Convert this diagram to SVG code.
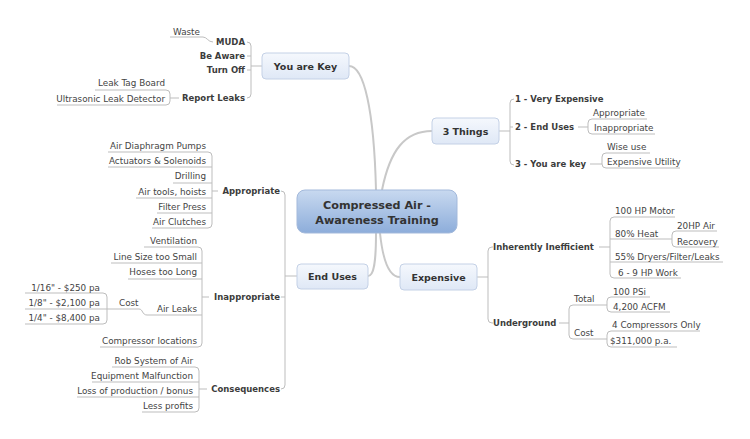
<svg xmlns="http://www.w3.org/2000/svg" width="750" height="439" viewBox="0 0 750 439">
<defs>
<linearGradient id="gMain" x1="0" y1="0" x2="0" y2="1"><stop offset="0" stop-color="#c8d9f0"/><stop offset="1" stop-color="#8dadda"/></linearGradient>
<linearGradient id="gBox" x1="0" y1="0" x2="0" y2="1"><stop offset="0" stop-color="#f5f8fd"/><stop offset="1" stop-color="#dfe8f6"/></linearGradient>
</defs>
<style>
text{font-family:"DejaVu Sans",Verdana,sans-serif}
.c{font-size:11.2px;font-weight:bold;fill:#333;text-anchor:middle}
.bt{font-size:9.5px;font-weight:bold;fill:#333;text-anchor:middle}
.s{font-size:8.5px;font-weight:bold;fill:#3c3c3c}
.l{font-size:8.8px;fill:#444}
.e{text-anchor:end}
.box{fill:url(#gBox);stroke:#c4d1e6;stroke-width:1}
.main{fill:url(#gMain);stroke:#a3b9db;stroke-width:1}
.ln{fill:none;stroke:#bdbdbd;stroke-width:1}
.mc{fill:none;stroke:#c8c8c8;stroke-width:2}
</style>
<rect width="750" height="439" fill="#fff"/>
<g id="connectors">
<path class="mc" d="M349,66 C364,66 374,110 376,190"/>
<path class="mc" d="M382,190 C390,150 405,131 432,131"/>
<path class="mc" d="M376,233 C376,262 374,276 368,276"/>
<path class="mc" d="M380,233 C383,262 390,277 400,277"/>
<path class="ln" d="M247,42 Q251,42 251,46 V94 Q251,98 247,98 M247,56 H251 M247,70 H251 M251,66 H262"/>
<path class="ln" d="M170,37 H203 C207,37 208,42 213,42"/>
<path class="ln" d="M95,90 H166 Q170,90 170,94 V101 Q170,105 166,105 H57 M170,98 H179"/>
<path class="ln" d="M281,191 Q285,191 285,195 V385 Q285,389 281,389 M281,297 H285 M285,276 H297"/>
<path class="ln" d="M108,152 H208 Q212,152 212,156 V224 Q212,228 208,228 H152 M108,167 H212 M173,183 H212 M136,198 H212 M157,213 H212 M212,191 H218"/>
<path class="ln" d="M144,247 H198 Q202,247 202,251 V343 Q202,347 198,347 H100 M111,263 H202 M128,279 H202 M147,315 H202 M202,297 H209"/>
<path class="ln" d="M25,293 H103 Q107,293 107,297 V320 Q107,324 103,324 H25 M25,309 H139 C143,309 142,315 147,315"/>
<path class="ln" d="M112,367 H195 Q199,367 199,371 V408 Q199,412 195,412 H142 M92,382 H199 M77,397 H199 M199,389 H207"/>
<path class="ln" d="M499,131 H510 M514,99 Q510,99 510,103 V161 Q510,165 514,165 M510,127 H513"/>
<path class="ln" d="M647,119 H592 Q588,119 588,123 V130 Q588,134 592,134 H655 M578,127 H588"/>
<path class="ln" d="M650,153 H606 Q602,153 602,157 V164 Q602,168 606,168 H680 M590,164 H602"/>
<path class="ln" d="M477,277 H488 M493,247 H492 Q488,247 488,251 V319 Q488,323 492,323 H493"/>
<path class="ln" d="M675,217 H614 Q610,217 610,221 V274 Q610,278 614,278 H681 M610,239 H672 M610,262 H723 M599,247 H610"/>
<path class="ln" d="M717,231 H676 Q672,231 672,235 V243 Q672,247 676,247 H719"/>
<path class="ln" d="M607,305 H573 Q569,305 569,309 V335 Q569,339 573,339 H607 M559,323 H569"/>
<path class="ln" d="M650,297 H611 Q607,297 607,301 V308 Q607,312 611,312 H670"/>
<path class="ln" d="M700,331 H611 Q607,331 607,335 V343 Q607,347 611,347 H677"/>
</g>
<g id="central"><rect class="main" x="297" y="190" width="160" height="43" rx="8"/><text class="c" x="377" y="209">Compressed Air -</text><text class="c" x="377" y="223.5">Awareness Training</text></g>
<g id="you-are-key"><rect class="box" x="262" y="53" width="87" height="26" rx="4"/><text class="bt" x="305.5" y="69.5">You are Key</text></g>
<g id="muda"><text class="s e" x="245" y="45">MUDA</text></g>
<g id="waste"><text class="l" x="173" y="35">Waste</text></g>
<g id="be-aware"><text class="s e" x="245" y="59">Be Aware</text></g>
<g id="turn-off"><text class="s e" x="245" y="73">Turn Off</text></g>
<g id="report-leaks"><text class="s e" x="245" y="101">Report Leaks</text></g>
<g id="leak-tag"><text class="l e" x="165" y="86">Leak Tag Board</text></g>
<g id="ultrasonic"><text class="l e" x="165" y="101.5">Ultrasonic Leak Detector</text></g>
<g id="three-things"><rect class="box" x="432" y="118" width="67" height="26" rx="4"/><text class="bt" x="465.5" y="134.5">3 Things</text></g>
<g id="t1"><text class="s" x="515" y="102">1 - Very Expensive</text></g>
<g id="t2"><text class="s" x="515" y="130">2 - End Uses</text></g>
<g id="t2a"><text class="l" x="593" y="116">Appropriate</text></g>
<g id="t2b"><text class="l" x="594" y="131">Inappropriate</text></g>
<g id="t3"><text class="s" x="515" y="167">3 - You are key</text></g>
<g id="t3a"><text class="l" x="607" y="150">Wise use</text></g>
<g id="t3b"><text class="l" x="607" y="165">Expensive Utility</text></g>
<g id="end-uses"><rect class="box" x="297" y="264" width="71" height="25" rx="4"/><text class="bt" x="332.5" y="280">End Uses</text></g>
<g id="appropriate"><text class="s e" x="280" y="194">Appropriate</text></g>
<g id="a1"><text class="l e" x="206" y="149">Air Diaphragm Pumps</text></g>
<g id="a2"><text class="l e" x="206" y="164">Actuators &amp; Solenoids</text></g>
<g id="a3"><text class="l e" x="206" y="179">Drilling</text></g>
<g id="a4"><text class="l e" x="206" y="195">Air tools, hoists</text></g>
<g id="a5"><text class="l e" x="206" y="210">Filter Press</text></g>
<g id="a6"><text class="l e" x="206" y="225">Air Clutches</text></g>
<g id="inappropriate"><text class="s e" x="280" y="300">Inappropriate</text></g>
<g id="i1"><text class="l e" x="197" y="244">Ventilation</text></g>
<g id="i2"><text class="l e" x="197" y="260">Line Size too Small</text></g>
<g id="i3"><text class="l e" x="197" y="275">Hoses too Long</text></g>
<g id="i4"><text class="l e" x="197" y="312">Air Leaks</text></g>
<g id="cost-l"><text class="l" x="119" y="306">Cost</text></g>
<g id="c1"><text class="l e" x="100" y="291">1/16" - $250 pa</text></g>
<g id="c2"><text class="l e" x="100" y="306">1/8" - $2,100 pa</text></g>
<g id="c3"><text class="l e" x="100" y="321">1/4" - $8,400 pa</text></g>
<g id="i5"><text class="l e" x="197" y="344">Compressor locations</text></g>
<g id="consequences"><text class="s e" x="280" y="392">Consequences</text></g>
<g id="q1"><text class="l e" x="193" y="364">Rob System of Air</text></g>
<g id="q2"><text class="l e" x="193" y="379">Equipment Malfunction</text></g>
<g id="q3"><text class="l e" x="193" y="394">Loss of production / bonus</text></g>
<g id="q4"><text class="l e" x="193" y="409">Less profits</text></g>
<g id="expensive"><rect class="box" x="400" y="264" width="77" height="26" rx="4"/><text class="bt" x="438.5" y="280.5">Expensive</text></g>
<g id="inefficient"><text class="s" x="493" y="250">Inherently Inefficient</text></g>
<g id="e1"><text class="l" x="615" y="214">100 HP Motor</text></g>
<g id="e2"><text class="l" x="615" y="237">80% Heat</text></g>
<g id="e2a"><text class="l" x="677" y="229">20HP Air</text></g>
<g id="e2b"><text class="l" x="677" y="245">Recovery</text></g>
<g id="e3"><text class="l" x="615" y="260">55% Dryers/Filter/Leaks</text></g>
<g id="e4"><text class="l" x="618" y="276">6 - 9 HP Work</text></g>
<g id="underground"><text class="s" x="493" y="326">Underground</text></g>
<g id="total"><text class="l" x="574" y="302">Total</text></g>
<g id="u1"><text class="l" x="613" y="295">100 PSi</text></g>
<g id="u2"><text class="l" x="613" y="310">4,200 ACFM</text></g>
<g id="cost-r"><text class="l" x="574" y="336">Cost</text></g>
<g id="u3"><text class="l" x="612" y="328">4 Compressors Only</text></g>
<g id="u4"><text class="l" x="610" y="344">$311,000 p.a.</text></g>
</svg>
